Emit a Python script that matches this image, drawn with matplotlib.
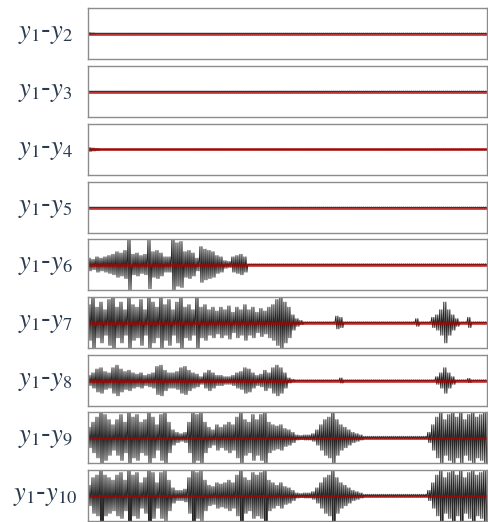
import numpy as np
import matplotlib
matplotlib.use("Agg")
import matplotlib.pyplot as plt

plt.rcParams["mathtext.fontset"] = "stix"

labels = ["$y_1$-$y_2$", "$y_1$-$y_3$", "$y_1$-$y_4$", "$y_1$-$y_5$", "$y_1$-$y_6$",
          "$y_1$-$y_7$", "$y_1$-$y_8$", "$y_1$-$y_9$", "$y_1$-$y_{10}$"]

# peak amplitude per time bin (100 bins across the record)
quiet = [0.02] * 100
env_2 = [0.04, 0.03] + [0.02] * 98
env_3 = quiet
env_4 = [0.08, 0.06, 0.04] + [0.02] * 97
env_5 = quiet
env_6 = ([0.25, 0.2, 0.3, 0.25, 0.3, 0.35, 0.4, 0.5, 0.45, 0.55, 1.0,
          0.4, 0.45, 0.35, 0.4, 0.95, 0.5, 0.55, 0.45, 0.3, 0.3,
          1.05, 0.85, 0.9, 0.5, 0.55, 0.45, 0.25, 0.7, 0.6, 0.55, 0.5,
          0.35, 0.3, 0.15, 0.12, 0.3, 0.35, 0.4, 0.3] + [0.03] * 60)
env_7 = ([0.7, 1.1, 0.6, 0.8, 0.5, 0.9, 1.1, 0.6, 0.8, 0.5,
          1.1, 0.7, 0.6, 0.9, 0.5, 1.1, 0.8, 0.6, 1.1, 0.7,
          0.9, 0.5, 0.8, 1.1, 0.6, 0.7, 0.5, 1.1, 0.6, 0.7,
          0.5, 0.6, 0.45, 0.6, 0.5, 0.65, 0.4, 0.6, 0.5, 0.7,
          0.5, 0.6, 0.4, 0.55, 0.45, 0.6, 0.7, 0.9, 1.1, 0.8,
          0.6, 0.3, 0.15, 0.08, 0.03, 0.03, 0.03, 0.03, 0.03, 0.03,
          0.03, 0.03, 0.25, 0.2, 0.03, 0.03, 0.03, 0.03, 0.03, 0.03,
          0.03, 0.03, 0.03, 0.03, 0.03, 0.03, 0.03, 0.03, 0.03, 0.03,
          0.03, 0.03, 0.15, 0.03, 0.03, 0.03, 0.2, 0.3, 0.5, 0.8,
          0.5, 0.3, 0.15, 0.03, 0.03, 0.2, 0.03, 0.03, 0.03, 0.03])
env_8 = ([0.2, 0.3, 0.45, 0.5, 0.35, 0.3, 0.5, 0.6, 0.45, 0.35,
          0.4, 0.3, 0.25, 0.3, 0.2, 0.25, 0.3, 0.55, 0.6, 0.4,
          0.3, 0.3, 0.35, 0.5, 0.55, 0.4, 0.3, 0.25, 0.15, 0.3,
          0.4, 0.3, 0.2, 0.2, 0.15, 0.15, 0.2, 0.3, 0.35, 0.5,
          0.45, 0.3, 0.2, 0.25, 0.4, 0.3, 0.5, 0.6, 0.5, 0.3,
          0.1, 0.05, 0.03, 0.03, 0.03, 0.03, 0.03, 0.03, 0.03, 0.03,
          0.03, 0.03, 0.03, 0.1, 0.03, 0.03, 0.03, 0.03, 0.03, 0.03,
          0.03, 0.03, 0.03, 0.03, 0.03, 0.03, 0.03, 0.03, 0.03, 0.03,
          0.03, 0.03, 0.03, 0.03, 0.03, 0.03, 0.03, 0.15, 0.3, 0.5,
          0.3, 0.15, 0.03, 0.03, 0.03, 0.08, 0.03, 0.03, 0.03, 0.03])
env_9 = ([0.4, 0.6, 0.8, 1.1, 0.9, 0.7, 0.5, 0.7, 0.9, 0.6,
          1.1, 0.8, 0.9, 0.6, 0.7, 1.1, 0.8, 0.5, 0.9, 1.1,
          0.6, 0.3, 0.2, 0.15, 0.2, 0.6, 1.1, 0.9, 1.1, 0.6,
          0.4, 0.3, 0.5, 0.4, 0.5, 0.6, 0.5, 0.8, 1.1, 0.7,
          0.6, 0.9, 0.7, 0.9, 1.1, 0.6, 0.5, 0.45, 0.5, 0.35,
          0.3, 0.2, 0.1, 0.08, 0.1, 0.1, 0.15, 0.3, 0.5, 0.7,
          0.8, 1.1, 0.7, 0.5, 0.4, 0.3, 0.2, 0.15, 0.1, 0.05,
          0.05, 0.05, 0.05, 0.05, 0.05, 0.05, 0.05, 0.05, 0.05, 0.05,
          0.05, 0.05, 0.05, 0.05, 0.05, 0.2, 0.5, 0.8, 1.1, 0.7,
          0.9, 1.1, 0.8, 1.1, 0.7, 0.9, 1.1, 0.8, 0.9, 1.1])
env_10 = ([0.4, 0.7, 0.8, 1.1, 0.8, 0.7, 0.6, 0.8, 0.9, 0.6,
           1.1, 0.8, 0.9, 0.5, 0.7, 1.1, 0.9, 0.5, 0.9, 1.0,
           0.6, 0.3, 0.2, 0.2, 0.25, 0.7, 1.1, 0.9, 1.0, 0.6,
           0.4, 0.35, 0.5, 0.45, 0.5, 0.6, 0.5, 0.8, 1.1, 0.7,
           0.6, 0.9, 0.8, 0.9, 1.1, 0.6, 0.5, 0.4, 0.5, 0.35,
           0.3, 0.2, 0.1, 0.08, 0.1, 0.1, 0.15, 0.3, 0.5, 0.7,
           0.8, 1.1, 0.7, 0.5, 0.4, 0.3, 0.2, 0.15, 0.1, 0.05,
           0.05, 0.05, 0.05, 0.05, 0.05, 0.05, 0.05, 0.05, 0.05, 0.05,
           0.05, 0.05, 0.05, 0.05, 0.05, 0.2, 0.5, 0.8, 1.1, 0.7,
           0.9, 1.1, 0.8, 1.1, 0.7, 0.9, 1.1, 0.8, 0.9, 1.1])

envelopes = [env_2, env_3, env_4, env_5, env_6, env_7, env_8, env_9, env_10]

fig = plt.figure(figsize=(4.88, 5.22), dpi=100)

tops = [8, 66, 124, 182, 239, 297, 355, 412, 470]
H = 522.0
swings = 2
for top, lab, env in zip(tops, labels, envelopes):
    ax = fig.add_axes([88 / 488, 1 - (top + 51) / H, 399 / 488, 51 / H])
    env = np.asarray(env)
    # each bin is drawn as a couple of up/down swings reaching its peak amplitude
    n = len(env) * swings * 2
    t = np.arange(n) / (swings * 2.0)
    y = np.repeat(env, swings * 2) * np.tile([1, -1], n // 2)
    ax.plot(t, y, color="black", lw=0.7, alpha=0.85)
    ax.axhline(0, color="#b00000", lw=2.0, alpha=0.75)
    ax.set_xlim(0, len(env) - 0.2)
    ax.set_ylim(-1.0, 1.0)
    ax.set_xticks([])
    ax.set_yticks([])
    for s in ax.spines.values():
        s.set_color("#8c8c8c")
        s.set_linewidth(1.0)
    fig.text(45 / 488, 1 - (top + 25) / H, lab, ha="center", va="center",
             fontsize=19, color="#2b3a4f")

fig.savefig("out.png", dpi=100)
